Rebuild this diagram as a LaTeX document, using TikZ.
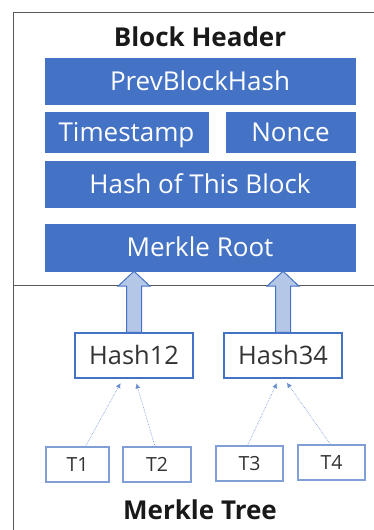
\documentclass[tikz,border=0pt]{standalone}
\usepackage{fontspec}
\setmainfont{Open Sans}
\usetikzlibrary{arrows.meta,calc}
\definecolor{hblue}{HTML}{4472C4}
\definecolor{lblue}{HTML}{B4C7E7}
\definecolor{tborder}{HTML}{7F9FD6}
\definecolor{frame}{HTML}{595959}
\tikzset{
  hdrbox/.style={text height=18.6pt,text depth=0pt,draw=hblue,fill=hblue,text=white,inner sep=0pt,font=\fontsize{26}{30}\selectfont},
  hashbox/.style={text height=18.2pt,text depth=0pt,draw=hblue,line width=1.3pt,fill=white,text=black!80,inner sep=0pt,minimum width=118pt,minimum height=45pt,font=\fontsize{25.4}{30}\selectfont},
  txbox/.style={text height=14pt,text depth=0pt,draw=tborder,line width=1.3pt,fill=white,text=black!80,inner sep=0pt,minimum height=35pt,font=\fontsize{19.5}{23}\selectfont},
  title/.style={text height=18.6pt,text depth=0pt,inner sep=0pt,text=black!90,font=\bfseries\fontsize{26}{30}\selectfont},
  bigarrow/.style={draw=hblue,fill=lblue,line width=1pt,line join=miter},
  dotarrow/.style={draw=hblue!80,line width=0.6pt,densely dotted,-{Latex[length=5pt,width=5pt]},shorten >=5pt},
  framelines/.style={draw=frame,line width=1pt}
}
\begin{document}
\begin{tikzpicture}[x=1pt,y=-1pt]
\useasboundingbox (0,0) rectangle (374,530);
\draw[framelines] (374,12) -- (13,12) -- (13,530);
\draw[framelines] (13,285) -- (374,285);
\node[title] (bh) at (200,37) {Block Header};
\node[hdrbox,minimum width=310pt,minimum height=46pt] (prev) at (200,81) {PrevBlockHash};
\node[hdrbox,minimum width=163pt,minimum height=40pt] (ts) at (126.5,132) {Timestamp};
\node[hdrbox,minimum width=129pt,minimum height=40pt] (nonce) at (290.5,132) {Nonce};
\node[hdrbox,minimum width=310pt,minimum height=46pt] (hob) at (200,184) {Hash of This Block};
\node[hdrbox,minimum width=310pt,minimum height=47pt] (mr) at (200,247.5) {Merkle Root};
\node[hashbox] (h12) at (134,355.5) {Hash12};
\node[hashbox] (h34) at (283,355.5) {Hash34};
\node[txbox,minimum width=63pt] (t1) at (77.5,464.5) {T1};
\node[txbox,minimum width=68pt] (t2) at (157,464.5) {T2};
\node[txbox,minimum width=67pt] (t3) at (249.5,463.5) {T3};
\node[txbox,minimum width=67pt] (t4) at (331.5,462.5) {T4};
\node[title] (mt) at (200,510) {Merkle Tree};
\foreach \h in {h12,h34}{
  \draw[bigarrow] let \p1=(\h.north), \p2=(mr.south) in
    (\x1-7.5pt,\y1) -- (\x1-7.5pt,\y2-15pt) -- (\x1-16pt,\y2-15pt) -- (\x1,\y2)
    -- (\x1+16pt,\y2-15pt) -- (\x1+7.5pt,\y2-15pt) -- (\x1+7.5pt,\y1) -- cycle;
}
\draw[dotarrow] ([xshift=8pt]t1.north) -- ([xshift=-11pt]h12.south);
\draw[dotarrow] ([xshift=-2pt]t2.north) -- ([xshift=1pt]h12.south);
\draw[dotarrow] ([xshift=-2pt]t3.north) -- ([xshift=-4pt]h34.south);
\draw[dotarrow] ([xshift=-1pt]t4.north) -- ([xshift=1pt]h34.south);
\end{tikzpicture}
\end{document}
